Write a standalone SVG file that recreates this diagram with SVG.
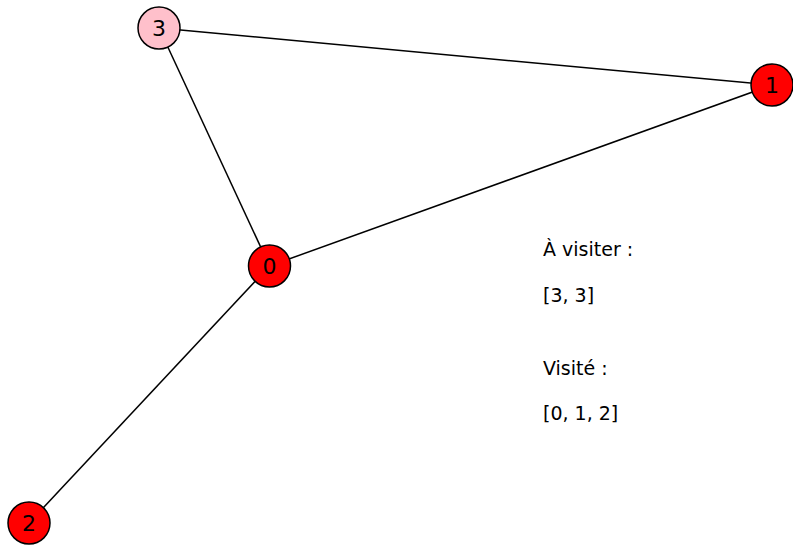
<svg xmlns="http://www.w3.org/2000/svg" width="793" height="545" viewBox="0 0 793 545">
<defs>
<style>
.edge{stroke:#000;stroke-width:1.5;fill:none}
.node circle{stroke:#000;stroke-width:1.5}
</style>
</defs>
<rect width="793" height="545" fill="#fff"/>
<g id="edges">
<line class="edge" x1="159" y1="28" x2="772" y2="85"/>
<line class="edge" x1="159" y1="28" x2="269.5" y2="266"/>
<line class="edge" x1="269.5" y1="266" x2="772" y2="85"/>
<line class="edge" x1="269.5" y1="266" x2="29" y2="523"/>
</g>
<g font-family="DejaVu Sans, sans-serif" font-size="22" text-anchor="middle" fill="#000">
<g id="node3" class="node"><circle cx="159" cy="28" r="21" fill="#ffc0cb"/><text x="159" y="36">3</text></g>
<g id="node0" class="node"><circle cx="269.5" cy="266" r="21" fill="#ff0000"/><text x="269.5" y="274">0</text></g>
<g id="node1" class="node"><circle cx="772" cy="85" r="21" fill="#ff0000"/><text x="772" y="93">1</text></g>
<g id="node2" class="node"><circle cx="29" cy="523" r="21" fill="#ff0000"/><text x="29" y="531">2</text></g>
</g>
<g id="info" font-family="DejaVu Sans, sans-serif" font-size="19" fill="#000">
<text x="543" y="256">À visiter :</text>
<text x="543" y="302">[3, 3]</text>
<text x="543" y="375">Visité :</text>
<text x="543" y="420">[0, 1, 2]</text>
</g>
</svg>
